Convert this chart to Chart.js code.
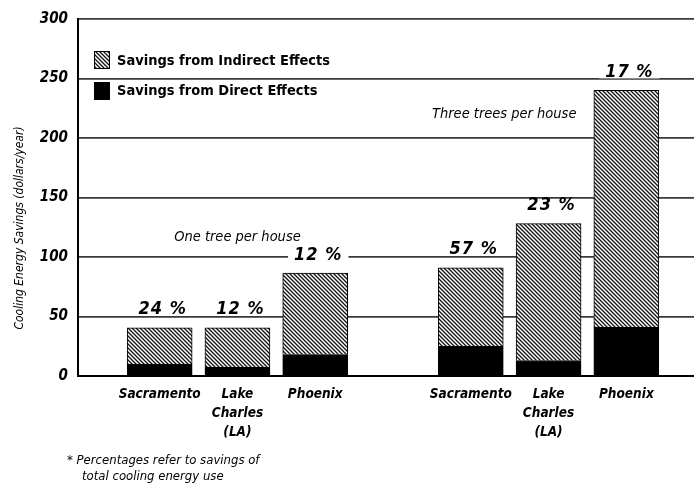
<!DOCTYPE html>
<html>
<head>
<meta charset="utf-8">
<script src="https://cdn.jsdelivr.net/npm/chart.js@4.4.1/dist/chart.umd.min.js"></script>
<style>
  body { margin: 0; background: #fff; }
</style>
</head>
<body>
<canvas id="chart" width="694" height="484"></canvas>
<script>
// values (dollars per year)
const cities = [["Sacramento"], ["Lake", "Charles", "(LA)"], ["Phoenix"],
                ["Sacramento"], ["Lake", "Charles", "(LA)"], ["Phoenix"]];
const directSavings = [10, 7.5, 18, 25, 13, 41];
const indirectSavings = [30.5, 33, 68.5, 66, 115, 199];
const percentLabels = ["24 %", "12 %", "12 %", "57 %", "23 %", "17 %"];
const groupNotes = ["One tree per house", "Three trees per house"];
const seriesNames = ["Savings from Indirect Effects", "Savings from Direct Effects"];
const yTitle = "Cooling Energy Savings (dollars/year)";
const footnote = ["* Percentages refer to savings of", "total cooling energy use"];

const FONT = '"DejaVu Sans Condensed", "Liberation Sans", sans-serif';

// an empty slot separates the two groups
const slot = i => (i < 3 ? i : i + 1);

const canvas = document.getElementById("chart");
const ctx = canvas.getContext("2d");

function makeHatch() {
  const c = document.createElement("canvas");
  c.width = 4; c.height = 4;
  const g = c.getContext("2d");
  g.fillStyle = "#fff";
  g.fillRect(0, 0, 4, 4);
  g.strokeStyle = "#111";
  g.lineWidth = 1.3;
  g.beginPath();
  g.moveTo(-1, -1); g.lineTo(5, 5);
  g.moveTo(-1, 3); g.lineTo(1, 5);
  g.moveTo(3, -1); g.lineTo(5, 1);
  g.stroke();
  return ctx.createPattern(c, "repeat");
}
const hatch = makeHatch();

// legend, notes, percentages and footnote
const decorations = {
  id: "decorations",
  afterDatasetsDraw(chart) {
    const c = chart.ctx;
    const xs = chart.scales.x, ys = chart.scales.y;
    c.save();
    c.fillStyle = "#000";
    c.textAlign = "center";
    c.textBaseline = "middle";

    // percentage above each bar, on white so grid lines break
    c.font = "bold italic 18px " + FONT;
    c.letterSpacing = "1px";
    percentLabels.forEach((t, i) => {
      const x = xs.getPixelForValue(slot(i)) + 3;
      const y = ys.getPixelForValue(directSavings[i] + indirectSavings[i]) - 18;
      const w = c.measureText(t).width;
      c.fillStyle = "#fff";
      c.fillRect(x - w / 2 - 6, y - 6, w + 12, 12);
      c.fillStyle = "#000";
      c.fillText(t, x, y);
    });
    c.letterSpacing = "0px";

    // group notes
    c.font = "italic 14.5px " + FONT;
    c.fillText(groupNotes[0], xs.getPixelForValue(1), ys.getPixelForValue(117));
    c.fillText(groupNotes[1], xs.getPixelForValue(4.43), ys.getPixelForValue(220));

    // legend
    const lx = chart.chartArea.left + 16;
    c.lineWidth = 1;
    c.strokeStyle = "#000";
    c.fillStyle = hatch;
    c.fillRect(lx, 51, 16, 18);
    c.strokeRect(lx + 0.5, 51.5, 15, 17);
    c.fillStyle = "#000";
    c.fillRect(lx, 82, 16, 18);
    c.textAlign = "left";
    c.font = "bold 14.5px " + FONT;
    c.fillText(seriesNames[0], lx + 23, 61);
    c.fillText(seriesNames[1], lx + 23, 91);

    // y axis title
    c.save();
    c.translate(20, 228);
    c.rotate(-Math.PI / 2);
    c.textAlign = "center";
    c.font = "italic 12px " + FONT;
    c.fillText(yTitle, 0, 0);
    c.restore();

    // footnote
    c.font = "italic 13px " + FONT;
    c.textAlign = "left";
    c.fillText(footnote[0], 67, 461);
    c.fillText(footnote[1], 82, 477);
    c.restore();
  }
};

new Chart(ctx, {
  type: "bar",
  data: {
    datasets: [
      {
        label: seriesNames[1],
        data: directSavings.map((v, i) => ({ x: slot(i), y: v })),
        backgroundColor: "#000",
        borderColor: "#000",
        borderWidth: 1,
        barThickness: 65
      },
      {
        label: seriesNames[0],
        data: indirectSavings.map((v, i) => ({ x: slot(i), y: v })),
        backgroundColor: hatch,
        borderColor: "#000",
        borderWidth: 1,
        barThickness: 65
      }
    ]
  },
  options: {
    responsive: false,
    animation: false,
    layout: { padding: { top: 13, left: 0, right: 0, bottom: 0 } },
    plugins: {
      legend: { display: false },
      tooltip: { enabled: false }
    },
    scales: {
      x: {
        type: "linear",
        offset: false,
        min: -1.05,
        max: 6.87,
        stacked: true,
        afterFit: s => { s.height = 108; },
        afterBuildTicks: s => { s.ticks = cities.map((c, i) => ({ value: slot(i) })); },
        grid: { display: false },
        border: { display: true, color: "#000", width: 2 },
        ticks: {
          autoSkip: false,
          maxRotation: 0,
          minRotation: 0,
          padding: 1,
          color: "#000",
          font: { family: FONT, size: 13.5, weight: "bold", style: "italic", lineHeight: 1.4 },
          callback: (v, i) => cities[i]
        }
      },
      y: {
        min: 0,
        max: 300,
        stacked: true,
        afterFit: s => { s.width = 78; },
        grid: { color: "#3a3a3a", lineWidth: 1.8, drawTicks: false },
        border: { display: true, color: "#000", width: 2 },
        ticks: {
          stepSize: 50,
          padding: 10,
          color: "#000",
          font: { family: FONT, size: 15, weight: "bold", style: "italic" }
        }
      }
    }
  },
  plugins: [decorations]
});
</script>
</body>
</html>
